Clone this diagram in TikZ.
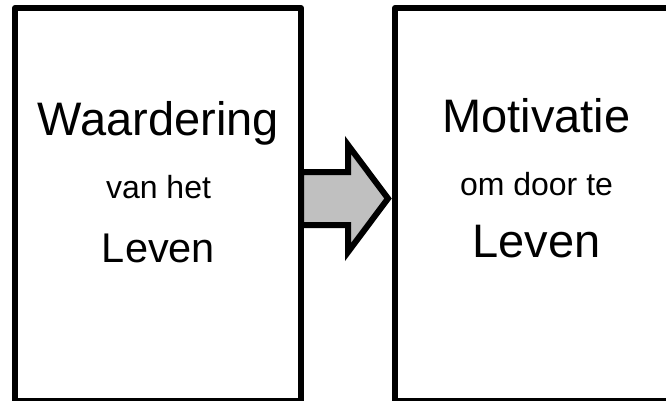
\documentclass[tikz,border=0pt]{standalone}
\usepackage{fontspec}
\setmainfont{Liberation Sans}
\usetikzlibrary{positioning,calc}

\definecolor{arrowgray}{HTML}{C0C0C0}

\begin{document}
\begin{tikzpicture}[x=1pt,y=1pt]
\tikzstyle{every node}+=[inner sep=0pt,outer sep=0pt]
\tikzstyle{panel}=[draw=black,line width=6pt,line join=round,rectangle]
\tikzstyle{bigword}=[anchor=base,font=\fontsize{47}{47}\selectfont]
\tikzstyle{smallword}=[anchor=base,font=\fontsize{32}{32}\selectfont]
\useasboundingbox (0,0) rectangle (666,-400);
\clip (0,0) rectangle (666,-400);
% block arrow between the two panels
\fill [arrowgray] (301,-172) -- (348,-172) -- (348,-145) -- (388,-198.5) -- (348,-252) -- (348,-225) -- (301,-225) -- cycle;
\draw [black,line width=6pt,miter limit=10] (301,-172) -- (348,-172) -- (348,-145) -- (388,-198.5) -- (348,-252) -- (348,-225) -- (301,-225) -- cycle;
% panels
\node [panel,minimum width=286pt,minimum height=393pt] (waardering) at (158,-204.5) {};
\node [panel,minimum width=283pt,minimum height=393pt] (motivatie) at (536.5,-204.5) {};
% texts
\node [bigword] (w1) at (158.5,-135) {Waardering};
\node [smallword] (w2) at (158.5,-198) {van het};
\node [bigword,font=\fontsize{41.5}{41.5}\selectfont] (w3) at (158.5,-262) {Leven};
\node [bigword] (m1) at (536.5,-132) {Motivatie};
\node [smallword] (m2) at (536.5,-195) {om door te};
\node [bigword] (m3) at (536.5,-257) {Leven};
\end{tikzpicture}
\end{document}
